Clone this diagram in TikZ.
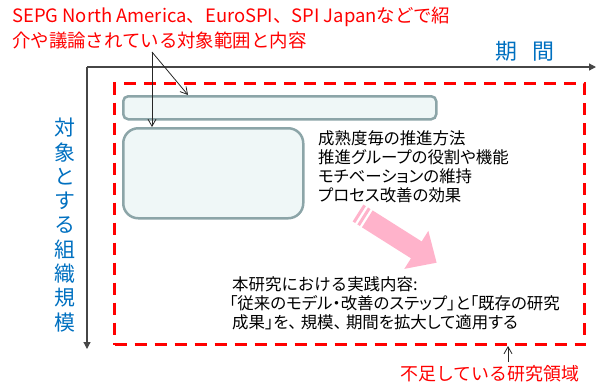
\documentclass[tikz,border=0pt]{standalone}
\usepackage{fontspec}
\setmainfont{Noto Sans CJK JP}
\newfontfamily\pfont[RawFeature=+palt]{Noto Sans CJK JP}
\usetikzlibrary{arrows.meta}
\definecolor{ured}{RGB}{255,0,0}
\definecolor{ublue}{RGB}{0,112,192}
\definecolor{boxfill}{RGB}{239,247,247}
\definecolor{boxline}{RGB}{140,165,168}
\definecolor{pinkarrow}{RGB}{255,179,203}
\definecolor{axisgrey}{RGB}{70,70,70}
\begin{document}
\begin{tikzpicture}[x=1bp,y=-1bp,
  box/.style={draw=boxline, line width=2.5bp, fill=boxfill, inner sep=0pt, anchor=north west},
  txt/.style={inner sep=0pt, anchor=west, align=left},
  axisline/.style={draw=axisgrey, line width=1.2bp, -{Triangle[length=7bp,width=7bp]}},
  thinarrow/.style={draw=black!85, line width=0.8bp, -{Straight Barb[length=7bp,width=8bp]}},
  gapbox/.style={draw=ured, line width=3bp, dash pattern=on 12bp off 8bp, inner sep=0pt, anchor=north west},
]
\useasboundingbox (0,0) rectangle (597,389);

% axes
\coordinate (o) at (87,67);
\coordinate (xend) at (596,67);
\coordinate (yend) at (87,349);
\draw[axisline] (o) -- (xend);
\draw[axisline] (o) -- (yend);

% axis labels
\node[inner sep=0pt, text=ublue, font=\fontsize{22}{22}\selectfont] (xlab) at (525,51) {期\hspace{0.7em}間};
\node[inner sep=0pt, text=ublue, align=center, font=\fontsize{21}{24.4}\selectfont] (ylab) at (65,225)
  {対\\象\\と\\す\\る\\組\\織\\規\\模};

% red dashed region
\node[gapbox, minimum width=470bp, minimum height=261bp] (gap) at (113,82) {};

% boxes
\node[box, rounded corners=5bp, minimum width=313bp, minimum height=23bp] (bar) at (122,95) {};
\node[box, rounded corners=15bp, minimum width=180bp, minimum height=90bp] (big) at (122,127) {};

% title
\node[inner sep=0pt, anchor=west, align=left, text=ured, font=\fontsize{18.5}{25}\selectfont] (title) at (12,28)
  {SEPG North America、EuroSPI、SPI Japanなどで紹\\介や議論されている対象範囲と内容};

% arrows from title
\coordinate (src) at (152,52);
\coordinate (barpt) at (188,95);
\draw[thinarrow] (src) -- (barpt);
\draw[thinarrow] (src) -- (src |- big.north);

% text blocks
\node[txt, font=\pfont\fontsize{16.5}{19}\selectfont] (topics) at (318,166.5)
  {成熟度毎の推進方法\\推進グループの役割や機能\\モチベーションの維持\\プロセス改善の効果};
\node[txt, font=\pfont\fontsize{16.5}{19}\selectfont] (practice) at (229,303)
  {\hspace{3bp}{\rmfamily 本研究における実践内容:}\\「従来のモデル・改善のステップ」と「既存の研究\\\hspace{3bp}成果」を、\hspace{0.25em}規模、\hspace{0.25em}期間を拡大して適用する};

% pink striped arrow
\begin{scope}[shift={(358,213)}, rotate=-32.3]
  \fill[pinkarrow] (11,-10) -- (69,-10) -- (69,-22.5) -- (93,0) -- (69,22.5) -- (69,10) -- (11,10) -- cycle;
  \fill[pinkarrow] (0,-10) rectangle (3,10);
  \fill[pinkarrow] (5.5,-10) rectangle (8.5,10);
\end{scope}

% bottom label
\node[inner sep=0pt, text=ured, font=\fontsize{18}{18}\selectfont] (gaplab) at (490,374) {不足している研究領域};
\coordinate (gsrc) at (508,362);
\draw[thinarrow] (gsrc) -- (gsrc |- gap.south);
\end{tikzpicture}
\end{document}
